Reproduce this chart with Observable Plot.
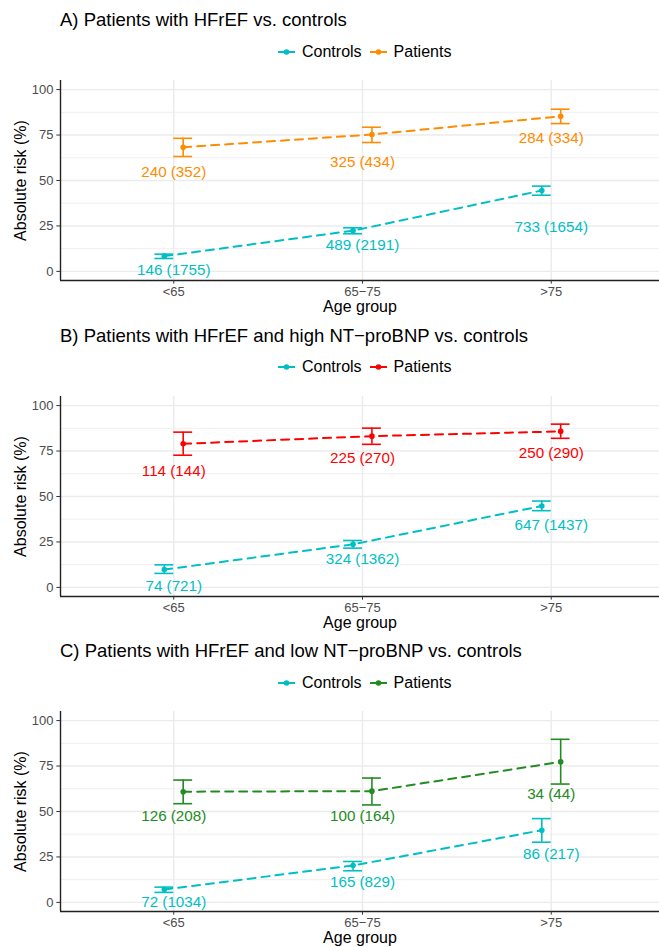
<!DOCTYPE html>
<html><head><meta charset="utf-8">
<script src="https://cdn.jsdelivr.net/npm/d3@7"></script>
<script src="https://cdn.jsdelivr.net/npm/@observablehq/plot@0.6"></script>
<style>
body{margin:0;background:#fff;font-family:"Liberation Sans",Arial,sans-serif;}
.panel{position:relative;width:659px;height:315.667px;overflow:hidden}
.title{position:absolute;left:60px;top:11px;font-size:18.5px;line-height:18.5px;color:#000;white-space:nowrap}
.legend{position:absolute;left:278px;top:41.7px;height:20px;display:flex;align-items:center;font-size:16px;white-space:nowrap;color:#000}
.item{display:flex;align-items:center;margin-right:8px}
.key{width:17px;height:20px;margin-right:7px;display:block}
</style></head><body><div id="root"></div>
<script>
// ---- data ----
const ages = ["<65", "65\u221275", ">75"];
const yTicks = [0, 25, 50, 75, 100];
const yMinor = [12.5, 37.5, 62.5, 87.5];
const seriesNames = ["Controls", "Patients"];

const titles = [
  "A) Patients with HFrEF vs. controls",
  "B) Patients with HFrEF and high NT\u2212proBNP vs. controls",
  "C) Patients with HFrEF and low NT\u2212proBNP vs. controls"
];

// Panel A
const ctrlA_n = [146, 489, 733];
const ctrlA_N = [1755, 2191, 1654];
const ctrlA_risk = [8.4, 22.4, 44.5];
const ctrlA_lo = [7.1, 20.7, 41.9];
const ctrlA_hi = [9.5, 24.0, 46.9];
const ctrlA_labelY = [0.5, 14.3, 24.3];
const patA_n = [240, 325, 284];
const patA_N = [352, 434, 334];
const patA_risk = [68.3, 75.3, 85.3];
const patA_lo = [63.2, 70.9, 81.3];
const patA_hi = [73.2, 79.3, 89.2];
const patA_labelY = [54.6, 60.1, 73.3];

// Panel B
const ctrlB_n = [74, 324, 647];
const ctrlB_N = [721, 1362, 1437];
const ctrlB_risk = [9.8, 23.7, 44.8];
const ctrlB_lo = [7.7, 21.6, 42.2];
const ctrlB_hi = [12.4, 25.8, 47.5];
const ctrlB_labelY = [0.7, 15.3, 34.4];
const patB_n = [114, 225, 250];
const patB_N = [144, 270, 290];
const patB_risk = [79.0, 83.2, 85.8];
const patB_lo = [72.7, 78.7, 82.0];
const patB_hi = [85.4, 87.6, 89.8];
const patB_labelY = [63.9, 71.2, 74.1];

// Panel C
const ctrlC_n = [72, 165, 86];
const ctrlC_N = [1034, 829, 217];
const ctrlC_risk = [7.1, 20.3, 39.7];
const ctrlC_lo = [5.5, 17.4, 33.1];
const ctrlC_hi = [8.4, 22.5, 46.1];
const ctrlC_labelY = [0.4, 11.3, 26.5];
const patC_n = [126, 100, 34];
const patC_N = [208, 164, 44];
const patC_risk = [60.9, 61.2, 77.3];
const patC_lo = [54.3, 53.6, 65.1];
const patC_hi = [67.3, 68.4, 89.7];
const patC_labelY = [47.5, 47.5, 59.4];

const controlColor = "#00BFC4";
const patientColors = ["#FF8C00", "#FF0000", "#228B22"];

// ---- build ----
function makeRows(n, N, risk, lo, hi, labelY, off) {
  return ages.map((a, i) => ({age: a, i, pos: i + off, n: n[i], N: N[i], risk: risk[i], lo: lo[i], hi: hi[i], ly: labelY[i]}));
}
const panels = [
  {title: titles[0], color: patientColors[0],
   ctrl: makeRows(ctrlA_n, ctrlA_N, ctrlA_risk, ctrlA_lo, ctrlA_hi, ctrlA_labelY, -0.05),
   pat: makeRows(patA_n, patA_N, patA_risk, patA_lo, patA_hi, patA_labelY, 0.05)},
  {title: titles[1], color: patientColors[1],
   ctrl: makeRows(ctrlB_n, ctrlB_N, ctrlB_risk, ctrlB_lo, ctrlB_hi, ctrlB_labelY, -0.05),
   pat: makeRows(patB_n, patB_N, patB_risk, patB_lo, patB_hi, patB_labelY, 0.05)},
  {title: titles[2], color: patientColors[2],
   ctrl: makeRows(ctrlC_n, ctrlC_N, ctrlC_risk, ctrlC_lo, ctrlC_hi, ctrlC_labelY, -0.05),
   pat: makeRows(patC_n, patC_N, patC_risk, patC_lo, patC_hi, patC_labelY, 0.05)}
];

const capHalf = 0.05;
function seriesMarks(r, color) {
  return [
    Plot.line(r, {x: "pos", y: "risk", stroke: color, strokeWidth: 2, strokeDasharray: "8,6"}),
    Plot.ruleX(r, {x: "pos", y1: "lo", y2: "hi", stroke: color, strokeWidth: 1.6}),
    Plot.ruleY(r, {y: "lo", x1: d => d.pos - capHalf, x2: d => d.pos + capHalf, stroke: color, strokeWidth: 1.6}),
    Plot.ruleY(r, {y: "hi", x1: d => d.pos - capHalf, x2: d => d.pos + capHalf, stroke: color, strokeWidth: 1.6}),
    Plot.dot(r, {x: "pos", y: "risk", r: 2.8, fill: color}),
    Plot.text(r, {x: "i", y: "ly", text: d => `${d.n} (${d.N})`, fill: color, fontSize: 15.2})
  ];
}

function keySvg(color) {
  const ns = "http://www.w3.org/2000/svg";
  const s = document.createElementNS(ns, "svg");
  s.setAttribute("class", "key"); s.setAttribute("width", 17); s.setAttribute("height", 20);
  const l = document.createElementNS(ns, "line");
  l.setAttribute("x1", 0); l.setAttribute("x2", 17); l.setAttribute("y1", 10); l.setAttribute("y2", 10);
  l.setAttribute("stroke", color); l.setAttribute("stroke-width", 2);
  const c = document.createElementNS(ns, "circle");
  c.setAttribute("cx", 8.5); c.setAttribute("cy", 10); c.setAttribute("r", 2.8); c.setAttribute("fill", color);
  s.appendChild(l); s.appendChild(c);
  return s;
}

const root = document.getElementById("root");
const H = 249.667;
panels.forEach(p => {
  const div = document.createElement("div"); div.className = "panel";
  const t = document.createElement("div"); t.className = "title"; t.textContent = p.title; div.appendChild(t);
  const lg = document.createElement("div"); lg.className = "legend";
  [[seriesNames[0], controlColor], [seriesNames[1], p.color]].forEach(([name, col]) => {
    const it = document.createElement("div"); it.className = "item";
    it.appendChild(keySvg(col));
    const sp = document.createElement("span"); sp.textContent = name; it.appendChild(sp);
    lg.appendChild(it);
  });
  div.appendChild(lg);

  const chart = Plot.plot({
    width: 659, height: H,
    marginLeft: 60, marginRight: 0, marginTop: 14, marginBottom: H - 214,
    style: {fontFamily: "'Liberation Sans', Arial, sans-serif", background: "transparent"},
    x: {domain: [-0.6, 2.6], range: [60, 664], axis: null},
    y: {domain: [-5, 105], axis: null},
    marks: [
      Plot.ruleY(yMinor, {stroke: "#EBEBEB", strokeWidth: 0.8}),
      Plot.ruleY(yTicks, {stroke: "#EBEBEB", strokeWidth: 1.4}),
      Plot.ruleX(ages.map((a, i) => i), {stroke: "#EBEBEB", strokeWidth: 1.4}),
      Plot.ruleY([-5], {stroke: "#222", strokeWidth: 1.4}),
      Plot.ruleX([-0.6], {stroke: "#222", strokeWidth: 1.4}),
      Plot.axisY({ticks: yTicks, tickSize: 3.67, tickPadding: 3.3, fontSize: 13, fill: "#4D4D4D", stroke: "#333", label: null}),
      Plot.axisX({ticks: ages.map((a, i) => i), tickFormat: i => ages[i], tickSize: 3.67, tickPadding: 2.4, fontSize: 13, fill: "#4D4D4D", stroke: "#333", label: null}),
      Plot.text(["Age group"], {text: d => d, frameAnchor: "bottom", lineAnchor: "middle", textAnchor: "middle", dy: 26.7, fontSize: 16, fill: "#000"}),
      Plot.text(["Absolute risk (%)"], {text: d => d, frameAnchor: "left", textAnchor: "middle", lineAnchor: "middle", dx: -39.3, rotate: -90, fontSize: 16, fill: "#000"}),
      ...seriesMarks(p.ctrl, controlColor),
      ...seriesMarks(p.pat, p.color)
    ]
  });
  chart.style.position = "absolute"; chart.style.left = "0px"; chart.style.top = "66px";
  div.appendChild(chart);
  root.appendChild(div);
});
</script></body></html>
